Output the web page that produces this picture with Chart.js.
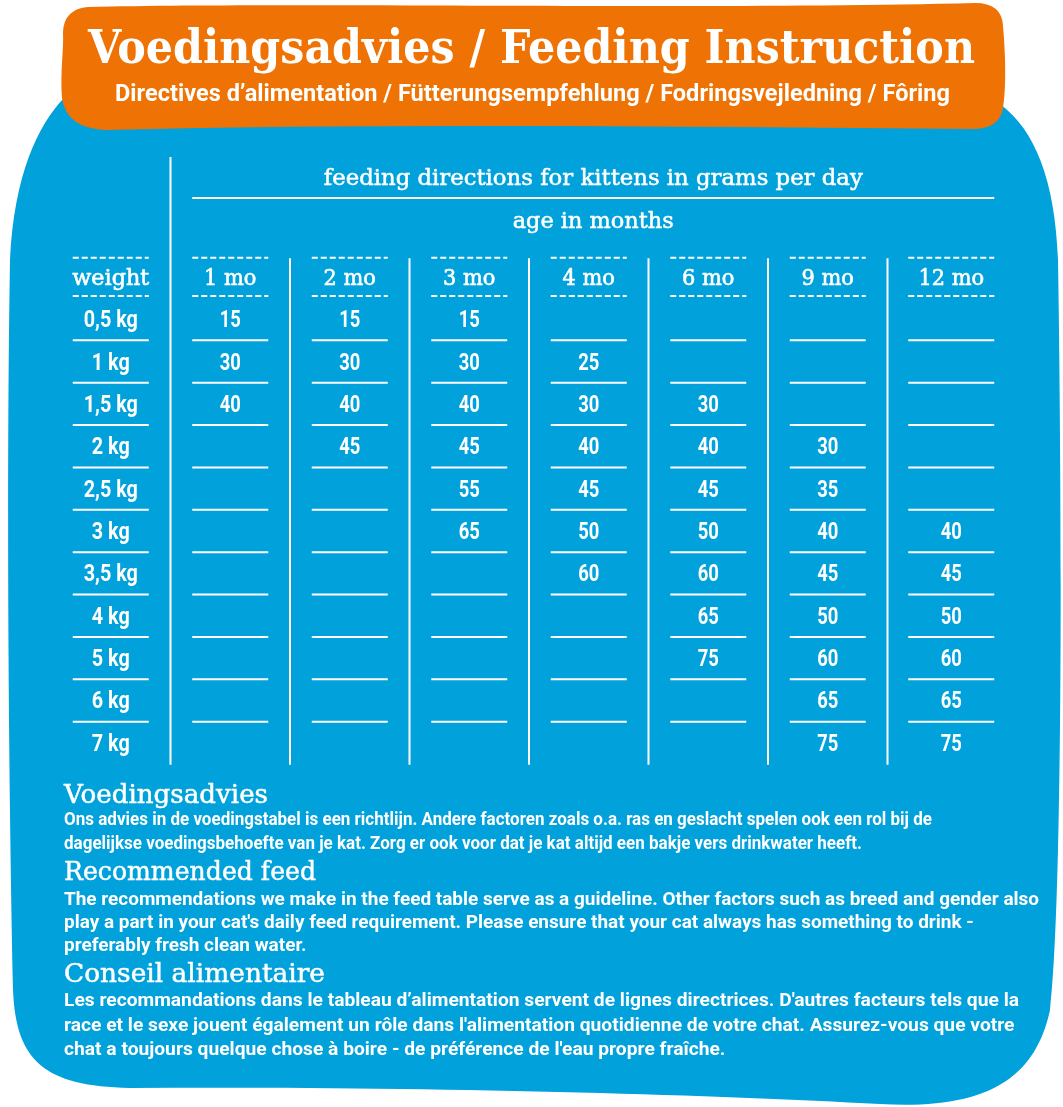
<!DOCTYPE html>
<html>
<head>
<meta charset="utf-8">
<script src="https://cdn.jsdelivr.net/npm/chart.js@4"></script>
<style>
html,body{margin:0;padding:0;background:#ffffff;}
canvas{display:block;}
</style>
</head>
<body>
<canvas id="c" width="1063" height="1107"></canvas>
<script>
// ---------- data ----------
const weightLabels = ['0,5 kg','1 kg','1,5 kg','2 kg','2,5 kg','3 kg','3,5 kg','4 kg','5 kg','6 kg','7 kg'];
const ageLabels = ['1 mo','2 mo','3 mo','4 mo','6 mo','9 mo','12 mo'];
const age1mo  = [15, 30, 40, null, null, null, null, null, null, null, null];
const age2mo  = [15, 30, 40, 45, null, null, null, null, null, null, null];
const age3mo  = [15, 30, 40, 45, 55, 65, null, null, null, null, null];
const age4mo  = [null, 25, 30, 40, 45, 50, 60, null, null, null, null];
const age6mo  = [null, null, 30, 40, 45, 50, 60, 65, 75, null, null];
const age9mo  = [null, null, null, 30, 35, 40, 45, 50, 60, 65, 75];
const age12mo = [null, null, null, null, null, 40, 45, 50, 60, 65, 75];

const titleText = 'Voedingsadvies / Feeding Instruction';
const subtitleText = 'Directives d\u2019alimentation / F\u00fctterungsempfehlung / Fodringsvejledning / F\u00f4ring';
const tableTitle = 'feeding directions for kittens in grams per day';
const ageAxisTitle = 'age in months';
const weightHeader = 'weight';

const noteHeadings = ['Voedingsadvies', 'Recommended feed', 'Conseil alimentaire'];
const noteDutch = [
  'Ons advies in de voedingstabel is een richtlijn. Andere factoren zoals o.a. ras en geslacht spelen ook een rol bij de',
  'dagelijkse voedingsbehoefte van je kat. Zorg er ook voor dat je kat altijd een bakje vers drinkwater heeft.'
];
const noteEnglish = [
  'The recommendations we make in the feed table serve as a guideline. Other factors such as breed and gender also',
  'play a part in your cat\'s daily feed requirement. Please ensure that your cat always has something to drink -',
  'preferably fresh clean water.'
];
const noteFrench = [
  'Les recommandations dans le tableau d\u2019alimentation servent de lignes directrices. D\'autres facteurs tels que la',
  'race et le sexe jouent \u00e9galement un r\u00f4le dans l\'alimentation quotidienne de votre chat. Assurez-vous que votre',
  'chat a toujours quelque chose \u00e0 boire - de pr\u00e9f\u00e9rence de l\'eau propre fra\u00eeche.'
];

// ---------- styling ----------
const BLUE = '#01A1DC';
const ORANGE = '#EE7204';
const WHITE = '#ffffff';
const SLAB = '"DejaVu Serif", "Liberation Serif", serif';
const SANS = 'Roboto, "Liberation Sans", sans-serif';

const ageSeries = [age1mo, age2mo, age3mo, age4mo, age6mo, age9mo, age12mo];

function cells(values, col) {
  const pts = [];
  values.forEach((v, r) => { if (v !== null) pts.push({x: col, y: r, v: v}); });
  return pts;
}

const datasets = [{
  label: weightHeader,
  data: weightLabels.map((w, r) => ({x: 0, y: r, v: w})),
  pointRadius: 0
}].concat(ageSeries.map((vals, i) => ({
  label: ageLabels[i],
  data: cells(vals, i + 1),
  pointRadius: 0
})));

function fitScale(ctx, text, font, width) {
  ctx.font = font;
  return width / ctx.measureText(text).width;
}
function drawText(ctx, text, x, y, font, sx, align, stroke) {
  ctx.save();
  ctx.font = font;
  ctx.textAlign = align || 'left';
  ctx.textBaseline = 'alphabetic';
  ctx.translate(x, y);
  ctx.scale(sx, 1);
  ctx.fillText(text, 0, 0);
  if (stroke) {
    ctx.lineWidth = stroke;
    ctx.lineJoin = 'round';
    ctx.strokeStyle = ctx.fillStyle;
    ctx.strokeText(text, 0, 0);
  }
  ctx.restore();
}
function seg(ctx, x1, y1, x2, y2) {
  ctx.beginPath(); ctx.moveTo(x1, y1); ctx.lineTo(x2, y2); ctx.stroke();
}

const backgroundPlugin = {
  id: 'background',
  beforeDraw(chart) {
    const ctx = chart.ctx;
    ctx.save();
    ctx.fillStyle = WHITE;
    ctx.fillRect(0, 0, chart.width, chart.height);
    // blue board
    ctx.beginPath();
    ctx.moveTo(64, 98);
    ctx.bezierCurveTo(38, 125, 14, 175, 10, 260);
    ctx.bezierCurveTo(6, 500, 9, 800, 13, 990);
    ctx.bezierCurveTo(16, 1062, 45, 1086, 130, 1088);
    ctx.bezierCurveTo(400, 1086, 700, 1094, 880, 1104);
    ctx.bezierCurveTo(985, 1110, 1035, 1080, 1050, 1010);
    ctx.bezierCurveTo(1063, 900, 1062, 500, 1058, 260);
    ctx.bezierCurveTo(1055, 180, 1035, 130, 1000, 104);
    ctx.closePath();
    ctx.fillStyle = BLUE;
    ctx.fill();
    // orange banner
    ctx.beginPath();
    ctx.moveTo(88, 7);
    ctx.bezierCurveTo(300, 2, 700, 10, 975, 3);
    ctx.quadraticCurveTo(1002, 3, 1003, 26);
    ctx.bezierCurveTo(1006, 60, 1006, 90, 1003, 108);
    ctx.quadraticCurveTo(1000, 128, 975, 129);
    ctx.bezierCurveTo(700, 127, 400, 123, 105, 130);
    ctx.quadraticCurveTo(66, 128, 62, 98);
    ctx.bezierCurveTo(60, 72, 64, 48, 63, 32);
    ctx.quadraticCurveTo(64, 9, 88, 7);
    ctx.closePath();
    ctx.fillStyle = ORANGE;
    ctx.fill();
    ctx.restore();
  }
};

const tablePlugin = {
  id: 'table',
  afterDatasetsDraw(chart) {
    const ctx = chart.ctx;
    const xs = chart.scales.x, ys = chart.scales.y;
    const X = v => xs.getPixelForValue(v) + (v >= 6.9 ? 4 : 0);
    const Y = v => ys.getPixelForValue(v);
    const last = ageLabels.length;
    const half = c => (c === last ? 43 : 38);

    ctx.save();
    ctx.strokeStyle = WHITE;
    ctx.fillStyle = WHITE;
    ctx.lineWidth = 2;

    // vertical separators
    seg(ctx, xs.getPixelForValue(0.5), Y(-3.83), xs.getPixelForValue(0.5), Y(10.52));
    for (let c = 1; c < last; c++) {
      const px = xs.getPixelForValue(c + 0.5);
      seg(ctx, px, Y(-1.44), px, Y(10.52));
    }
    // rule under table title
    seg(ctx, X(1) - half(1), Y(-2.86), X(last) + half(last), Y(-2.86));

    // dashed header rules
    ctx.setLineDash([6, 3]);
    for (let c = 0; c <= last; c++) {
      seg(ctx, X(c) - half(c), Y(-1.45), X(c) + half(c), Y(-1.45));
      seg(ctx, X(c) - half(c), Y(-0.55), X(c) + half(c), Y(-0.55));
    }
    ctx.setLineDash([]);

    // row rules
    for (let r = 0; r < weightLabels.length - 1; r++) {
      for (let c = 0; c <= last; c++) {
        seg(ctx, X(c) - half(c), Y(r + 0.5), X(c) + half(c), Y(r + 0.5));
      }
    }

    // titles above the table
    const ttFont = '22px ' + SLAB;
    const cx = (X(1) - half(1) + X(last) + half(last)) / 2;
    drawText(ctx, tableTitle, cx, Y(-3.33) + 7, ttFont, fitScale(ctx, tableTitle, ttFont, 539), 'center', 0.5);
    drawText(ctx, ageAxisTitle, cx, Y(-2.32) + 7, ttFont, fitScale(ctx, ageAxisTitle, ttFont, 161), 'center', 0.5);

    // header row
    const hFont = '22px ' + SLAB;
    drawText(ctx, weightHeader, X(0), Y(-1) + 8, hFont, fitScale(ctx, weightHeader, hFont, 77), 'center', 0.6);
    ageLabels.forEach((a, i) => drawText(ctx, a, X(i + 1), Y(-1) + 8, hFont, 0.95, 'center', 0.6));

    // cells from dataset elements
    const cFont = 'bold 23px ' + SANS;
    chart.data.datasets.forEach((ds, di) => {
      const meta = chart.getDatasetMeta(di);
      meta.data.forEach((el, j) => {
        const v = ds.data[j].v;
        const px = el.x + (di === last ? 4 : 0);
        drawText(ctx, String(v), px, el.y + 8, cFont, di === 0 ? 0.86 : 0.8, 'center');
      });
    });
    ctx.restore();
  },
  afterDraw(chart) {
    const ctx = chart.ctx;
    ctx.save();
    ctx.fillStyle = WHITE;
    // banner
    const tFont = 'bold 46px ' + SLAB;
    drawText(ctx, titleText, 531.5, 63, tFont, fitScale(ctx, titleText, tFont, 887), 'center');
    const sFont = 'bold 23px ' + SANS;
    drawText(ctx, subtitleText, 532.5, 101, sFont, fitScale(ctx, subtitleText, sFont, 835), 'center');

    // notes
    const hdFont = '26px ' + SLAB;
    const bFont = 'bold 18px ' + SANS;
    const blocks = [
      {h: noteHeadings[0], hw: 204, hy: 803, lines: noteDutch, lw: 868, ly: 825, lh: 24},
      {h: noteHeadings[1], hw: 252, hy: 880, lines: noteEnglish, lw: 975, ly: 905, lh: 23},
      {h: noteHeadings[2], hw: 261, hy: 982, lines: noteFrench, lw: 955, ly: 1006, lh: 24.5}
    ];
    blocks.forEach(b => {
      drawText(ctx, b.h, 64, b.hy, hdFont, fitScale(ctx, b.h, hdFont, b.hw), 'left', 0.5);
      const sx = fitScale(ctx, b.lines[0], bFont, b.lw);
      b.lines.forEach((t, i) => drawText(ctx, t, 64, b.ly + i * b.lh, bFont, sx, 'left'));
    });
    ctx.restore();
  }
};

new Chart(document.getElementById('c'), {
  type: 'scatter',
  data: { datasets: datasets },
  options: {
    responsive: false,
    devicePixelRatio: 1,
    animation: false,
    events: [],
    layout: { padding: { left: 51, right: 56, top: 298, bottom: 343 } },
    plugins: { legend: { display: false }, tooltip: { enabled: false }, title: { display: false } },
    scales: {
      x: { type: 'linear', min: -0.5, max: 7.5, display: false },
      y: { type: 'linear', min: -0.5, max: 10.5, reverse: true, display: false }
    }
  },
  plugins: [backgroundPlugin, tablePlugin]
});
</script>
</body>
</html>
